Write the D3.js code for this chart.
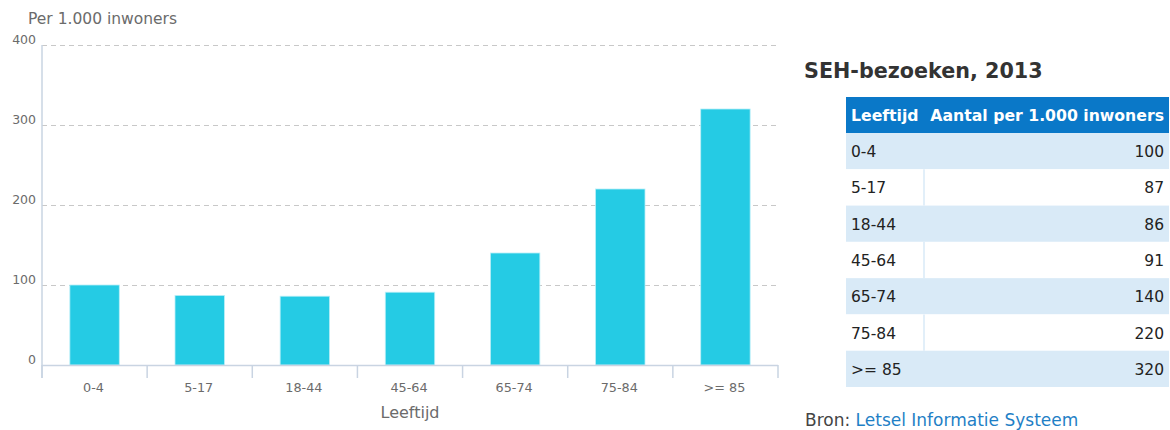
<!DOCTYPE html>
<html><head><meta charset="utf-8">
<script src="https://cdn.jsdelivr.net/npm/d3@7"></script>
<style>
body{margin:0;background:#fff;font-family:"DejaVu Sans",sans-serif;}
svg{display:block}
</style></head>
<body><svg id="c" width="1170" height="430"></svg>
<script>
const categories = ["0-4","5-17","18-44","45-64","65-74","75-84",">= 85"];
const values = [100,87,86,91,140,220,320];
const yTicks = [0,100,200,300,400];
const tableHeaders = ["Leeftijd","Aantal per 1.000 inwoners"];
const title = "SEH-bezoeken, 2013";
const yLabel = "Per 1.000 inwoners";
const xLabel = "Leeftijd";

const svg = d3.select("#c");
const x = d3.scaleBand().domain(categories).range([42,778]);
const y = d3.scaleLinear().domain([0,400]).range([365,45]);
const barW = x.bandwidth()*0.47;

// gridlines
svg.append("g").selectAll("line").data(yTicks.filter(d=>d>0)).join("line")
  .attr("x1",42).attr("x2",776).attr("y1",d=>y(d)+0.5).attr("y2",d=>y(d)+0.5)
  .attr("stroke","#c8c8c8").attr("stroke-width",1.2).attr("stroke-dasharray","5,4");

// y labels
svg.append("g").selectAll("text").data(yTicks).join("text")
  .attr("x",36).attr("y",d=>y(d)-1).attr("text-anchor","end")
  .attr("font-size",12.5).attr("fill","#6b6b6b").text(d=>d);

// bars
svg.append("g").selectAll("rect").data(values).join("rect")
  .attr("x",(d,i)=>x(categories[i])+x.bandwidth()/2-barW/2)
  .attr("width",barW)
  .attr("y",d=>y(d)).attr("height",d=>y(0)-y(d))
  .attr("fill","#25cbe4").attr("stroke","#b8eef7").attr("stroke-width",0.8);

// axes lines
const axisCol="#c9d4e2";
svg.append("line").attr("x1",42).attr("x2",42).attr("y1",45).attr("y2",378).attr("stroke",axisCol).attr("stroke-width",1.5);
svg.append("line").attr("x1",42).attr("x2",778).attr("y1",365.5).attr("y2",365.5).attr("stroke",axisCol).attr("stroke-width",1.5);
const bounds = categories.map(c=>x(c)).concat([778]);
svg.append("g").selectAll("line").data(bounds).join("line")
  .attr("x1",d=>d).attr("x2",d=>d).attr("y1",365).attr("y2",378)
  .attr("stroke",axisCol).attr("stroke-width",1.5);
svg.append("g").selectAll("text").data(categories).join("text")
  .attr("x",d=>x(d)+x.bandwidth()/2-1).attr("y",392).attr("text-anchor","middle")
  .attr("font-size",12.8).attr("fill","#6b6b6b").text(d=>d);

svg.append("text").attr("x",410).attr("y",418).attr("text-anchor","middle")
  .attr("font-size",16).attr("fill","#6b6b6b").text(xLabel);
svg.append("text").attr("x",28).attr("y",24)
  .attr("font-size",15.5).attr("fill","#6b6b6b").text(yLabel);

// title
svg.append("text").attr("x",804).attr("y",78).attr("font-size",20.7).attr("font-weight","bold")
  .attr("fill","#333").text(title);

// table
const tx0=846, tx1=1169, hy0=97, hy1=133, rh=(387-133)/7, divX=924;
svg.append("rect").attr("x",tx0).attr("y",hy0).attr("width",tx1-tx0).attr("height",hy1-hy0).attr("fill","#0a78c8");
svg.append("text").attr("x",851).attr("y",hy0+24).attr("font-size",15.7).attr("font-weight","bold").attr("fill","#fff").text(tableHeaders[0]);
svg.append("text").attr("x",1164).attr("y",hy0+24).attr("text-anchor","end").attr("font-size",15.7).attr("font-weight","bold").attr("fill","#fff").text(tableHeaders[1]);

const rows = svg.append("g").selectAll("g").data(categories).join("g")
  .attr("transform",(d,i)=>`translate(0,${hy1+i*rh})`);
rows.append("rect").attr("x",tx0).attr("width",tx1-tx0).attr("height",rh)
  .attr("fill",(d,i)=>i%2===0?"#d9eaf7":"#fff");
rows.filter((d,i)=>i%2===1).append("line").attr("x1",divX).attr("x2",divX).attr("y1",0).attr("y2",rh)
  .attr("stroke","#d9eaf7").attr("stroke-width",1.5);
rows.append("text").attr("x",851).attr("y",rh/2+6).attr("font-size",15.5).attr("fill","#222").text(d=>d);
rows.append("text").attr("x",1164).attr("y",rh/2+6).attr("text-anchor","end").attr("font-size",15.5).attr("fill","#222").text((d,i)=>values[i]);

// source
const src = svg.append("text").attr("x",805).attr("y",426).attr("font-size",17).attr("textLength",null);
src.append("tspan").attr("fill","#444").text("Bron: ");
src.append("tspan").attr("fill","#1f7fc6").text("Letsel Informatie Systeem");
</script></body></html>
